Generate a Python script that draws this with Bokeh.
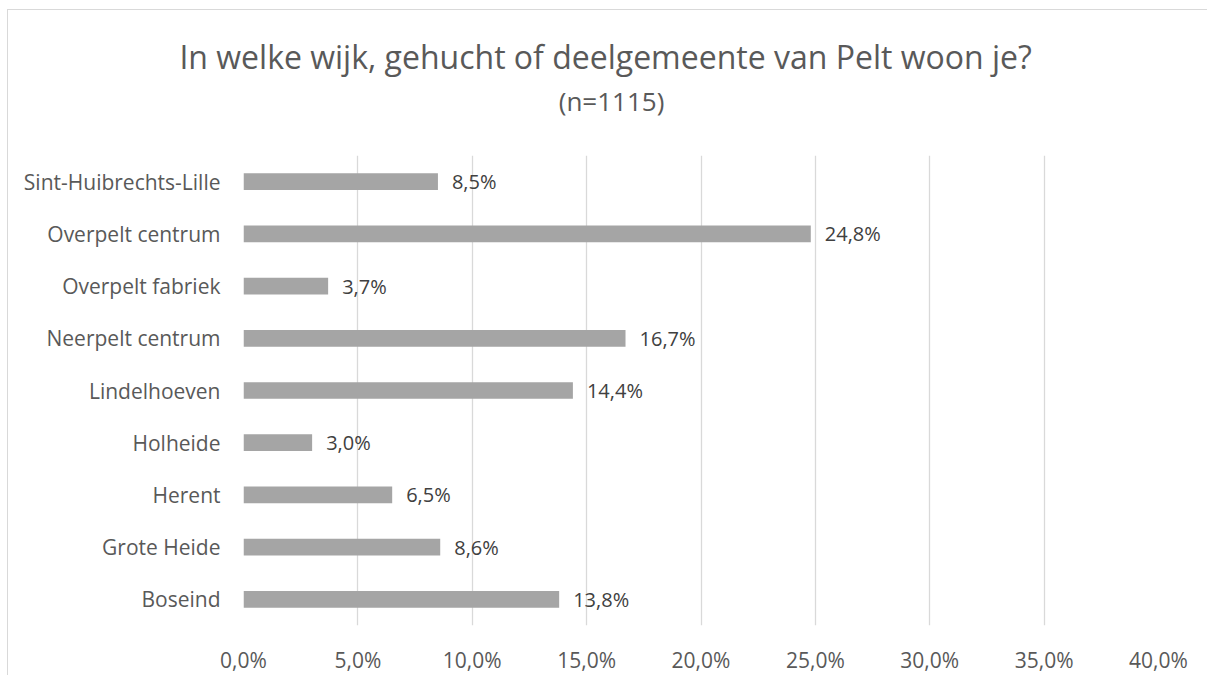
from bokeh.plotting import figure
from bokeh.models import (ColumnDataSource, FactorRange, Range1d, LinearAxis,
                          CustomJSTickFormatter, FixedTicker)
from bokeh.core.properties import value
from bokeh.embed import file_html
from bokeh.resources import INLINE
import json

# ---- data (bottom to top) ----
categories = ["Boseind", "Grote Heide", "Herent", "Holheide", "Lindelhoeven",
              "Neerpelt centrum", "Overpelt fabriek", "Overpelt centrum",
              "Sint-Huibrechts-Lille"]
percentages = [13.8, 8.6, 6.5, 3.0, 14.4, 16.7, 3.7, 24.8, 8.5]
x_ticks = [0, 5, 10, 15, 20, 25, 30, 35, 40]
title_text = "In welke wijk, gehucht of deelgemeente van Pelt woon je?"
subtitle_text = "(n=1115)"

labels = [f"{v:.1f}".replace(".", ",") + "%" for v in percentages]
source = ColumnDataSource(dict(cat=categories, val=percentages, lab=labels))

FONT = "Open Sans"
TXT = "#595959"

p = figure(width=1200, height=666, output_backend="svg", toolbar_location=None,
           title=None,
           y_range=FactorRange(*categories, range_padding=0),
           x_range=Range1d(0, 40),
           min_border_left=235, min_border_right=50,
           min_border_top=145, min_border_bottom=46)
p.margin = (9, 0, 0, 7)
p.styles = {"border-top": "1px solid #d9d9d9", "border-left": "1px solid #d9d9d9"}
p.outline_line_color = None
p.background_fill_color = "white"
p.border_fill_color = "white"

p.hbar(y="cat", right="val", left=0, height=0.32, source=source,
       fill_color="#a5a5a5", line_color=None)

p.text(x="val", y="cat", text="lab", source=source, x_offset=14,
       text_font=value(FONT), text_font_size="20px", text_color="#404040",
       text_baseline="middle", text_align="left")

p.xaxis.ticker = FixedTicker(ticks=x_ticks)
p.xaxis.formatter = CustomJSTickFormatter(
    code="return tick.toFixed(1).replace('.', ',') + '%';")
for ax in (p.xaxis[0], p.yaxis[0]):
    ax.axis_line_color = None
    ax.major_tick_line_color = None
    ax.minor_tick_line_color = None
    ax.major_tick_out = 0
    ax.major_tick_in = 0
    ax.major_label_text_font = FONT
    ax.major_label_text_font_size = "21px"
    ax.major_label_text_color = TXT
p.xaxis.major_label_standoff = 20
p.yaxis.major_label_standoff = 23

p.xgrid.ticker = FixedTicker(ticks=x_ticks)
p.xgrid.grid_line_color = "#d9d9d9"
p.xgrid.grid_line_width = 1.3
p.ygrid.grid_line_color = None


def text_axis(txt, at, size, standoff):
    ax = LinearAxis(ticker=FixedTicker(ticks=[at]),
                    formatter=CustomJSTickFormatter(code="return " + json.dumps(txt) + ";"))
    ax.axis_line_color = None
    ax.major_tick_line_color = None
    ax.minor_tick_line_color = None
    ax.major_tick_out = 0
    ax.major_tick_in = 0
    ax.major_label_text_font = FONT
    ax.major_label_text_font_size = size
    ax.major_label_text_color = TXT
    ax.major_label_standoff = standoff
    return ax


# titles: subtitle closest to the plot, main title above it
p.add_layout(text_axis(subtitle_text, 16.09, "26px", 37), "above")
p.add_layout(text_axis(title_text, 15.83, "32px", 2), "above")

open("out.html", "w").write(file_html(p, INLINE))
